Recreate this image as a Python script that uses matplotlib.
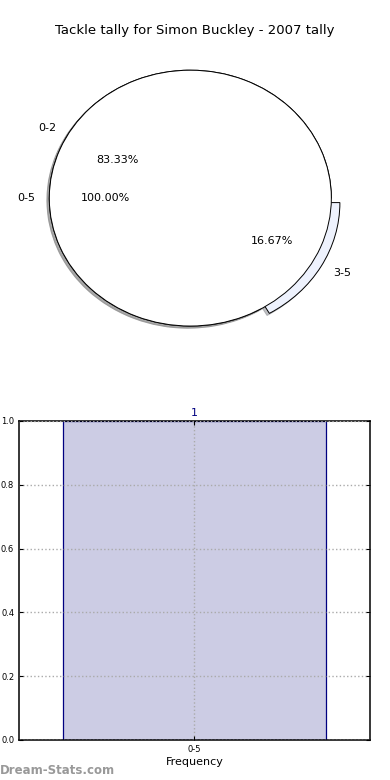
import matplotlib
matplotlib.use("Agg")
import matplotlib.pyplot as plt

title = "Tackle tally for Simon Buckley - 2007 tally"

# pie data
outer_labels = ["0-2", "3-5"]
outer_values = [5, 1]
total_labels = ["0-5"]
total_values = [1]

# bar data
bar_labels = ["0-5"]
bar_values = [1]

fig = plt.figure(figsize=(3.9, 7.8), dpi=100)

# ---- pie ----
shadow = {"ox": -0.012, "oy": -0.012, "shade": 0.45}
ax1 = fig.add_axes([0.036, 0.541, 0.904, 0.410])
ax1.pie(outer_values, labels=outer_labels, autopct="%.2f%%", startangle=0,
        explode=[0, 0.07], shadow=shadow,
        colors=["white", "#eef2fd"],
        wedgeprops={"edgecolor": "black", "linewidth": 0.7},
        textprops={"fontsize": 8})
ax1.pie(total_values, labels=total_labels, autopct="%.2f%%", startangle=0,
        shadow=shadow, colors=["white"],
        wedgeprops={"edgecolor": "black", "linewidth": 0.7},
        textprops={"fontsize": 8})
ax1.set_aspect("auto")
ax1.set_xlim(-1.25, 1.25)
ax1.set_ylim(-1.25, 1.25)
fig.text(0.5, 0.961, title, ha="center", va="center", fontsize=9.5)

# ---- bar ----
ax2 = fig.add_axes([0.0487, 0.0513, 0.9, 0.409])
x = list(range(len(bar_values)))
ax2.bar(x, bar_values, width=0.6, color="#ccccE4", edgecolor="navy", linewidth=0.9)
for xi, v in zip(x, bar_values):
    ax2.text(xi, v + 0.01, str(v), ha="center", va="bottom", color="navy", fontsize=8)
ax2.set_xlim(-0.4, 0.4)
ax2.set_ylim(0, 1.0)
ax2.set_xticks(x)
ax2.set_xticklabels(bar_labels)
ax2.set_yticks([0.0, 0.2, 0.4, 0.6, 0.8, 1.0])
ax2.tick_params(labelsize=6, direction="in", top=True, right=True, length=3)
ax2.grid(True, linestyle=":", color="#aaaaaa", linewidth=1.0)
ax2.set_axisbelow(False)
for s in ax2.spines.values():
    s.set_linewidth(1.1)
ax2.set_xlabel("Frequency", fontsize=8, labelpad=2)
fig.text(0.0, 0.004, "Dream-Stats.com", color="#999999", fontsize=8.5,
         fontweight="bold", ha="left", va="bottom")

fig.savefig("out.png", dpi=100)
